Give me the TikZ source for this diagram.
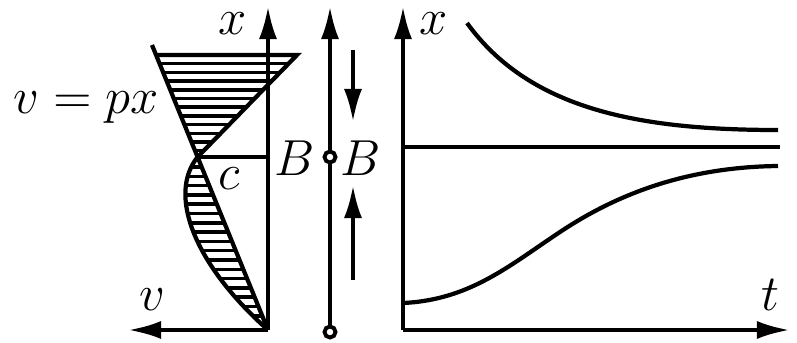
\documentclass[tikz,border=0pt]{standalone}
\usepackage{tikz}
\usetikzlibrary{arrows.meta}

\begin{document}
\begin{tikzpicture}[x=0.01cm,y=-0.01cm,>={Latex[length=3.3mm,width=1.8mm]},
  every node/.style={font=\Large,inner sep=1pt},
  curve/.style={line width=1.2pt},
  hatch/.style={line width=1pt},
  dot/.style={circle,draw,line width=1.1pt,fill=white,inner sep=0pt,minimum size=0.11cm}]
\useasboundingbox (0,0) rectangle (797,342);

% velocity profile
\coordinate (o1) at (268,330);
\coordinate (xtip1) at (268,6);
\coordinate (vtip) at (128,330);
\coordinate (c) at (197.6,157);
\coordinate (ltop) at (152,45);
\coordinate (lhat) at (156.1,55);
\coordinate (rtop) at (297,55);
\begin{scope}
  \clip (lhat) -- (rtop) -- (c) -- cycle;
  \foreach \y in {55,63.7,...,156} \draw[hatch] (140,\y) -- (310,\y);
\end{scope}
\begin{scope}
  \clip (c) .. controls (167,195) and (195,265) .. (o1) -- cycle;
  \foreach \y in {167,176.3,...,330} \draw[hatch] (140,\y) -- (310,\y);
\end{scope}
\draw[curve] (ltop) -- (o1);
\draw[curve] (lhat) -- (rtop) -- (c) .. controls (167,195) and (195,265) .. (o1);
\draw[curve] (c) -- (c -| o1);
\draw[curve,->] (o1) -- (xtip1);
\draw[curve,->] (o1) -- (vtip);
\node (xl1) at (233,24) {$x$};
\node (vl) at (152,300) {$v$};
\node (vpx) at (86,108) {$v=px$};
\node (cl) at (229,179) {$c$};

% bar with point B
\coordinate (mbot) at (330,332);
\coordinate (mtip) at (330,6);
\draw[curve,->] (mbot) -- (mtip);
\node[dot] (bot) at (mbot) {};
\node[dot] (bdot) at (330,157) {};
\node (bl) at (295,158) {$B$};
\node (br) at (361,158) {$B$};
\coordinate (d1) at (353,50);
\coordinate (d2) at (353,122);
\coordinate (u1) at (353,280);
\coordinate (u2) at (353,185);
\draw[curve,->] (d1) -- (d2);
\draw[curve,->] (u1) -- (u2);

% x-t graph
\coordinate (o2) at (403,330);
\coordinate (xtip2) at (403,6);
\coordinate (ttip) at (790,330);
\coordinate (mid0) at (403,147);
\coordinate (mid1) at (780,147);
\draw[curve,->] (o2) -- (xtip2);
\draw[curve,->] (o2) -- (ttip);
\draw[curve] (mid0) -- (mid1);
\draw[curve] (467,23) .. controls (530,110) and (640,130) .. (778,130);
\draw[curve] (403,303) .. controls (470,300) and (510,265) .. (560,232)
  .. controls (620,192) and (690,167) .. (778,166);
\node (xl2) at (434,24) {$x$};
\node (tl) at (770,295) {$t$};
\end{tikzpicture}
\end{document}
